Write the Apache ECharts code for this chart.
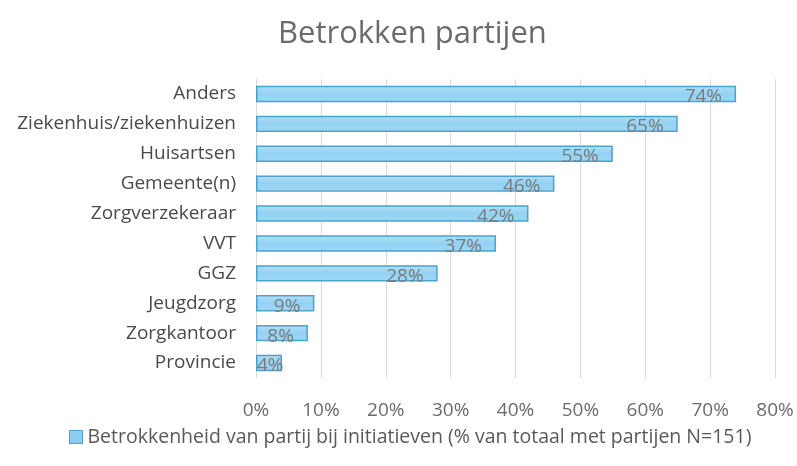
<!DOCTYPE html>
<html><head><meta charset="utf-8">
<script src="https://cdn.jsdelivr.net/npm/echarts@6/dist/echarts.min.js"></script>
<style>html,body{margin:0;padding:0;background:#fff}#c{width:797px;height:466px}</style>
</head><body><div id="c"></div>
<script>
const categories = ['Anders','Ziekenhuis/ziekenhuizen','Huisartsen','Gemeente(n)','Zorgverzekeraar','VVT','GGZ','Jeugdzorg','Zorgkantoor','Provincie'];
const values = [74,65,55,46,42,37,28,9,8,4];
const seriesName = 'Betrokkenheid van partij bij initiatieven (% van totaal met partijen N=151)';
const titleText = 'Betrokken partijen';
const font = '"Open Sans", "Noto Sans", sans-serif';
const chart = echarts.init(document.getElementById('c'));
const seriesData = values.map(v => v < 6 ? {value:v, label:{position:'insideLeft', offset:[-4,3]}} : v);
chart.setOption({
  animation:false,
  textStyle:{fontFamily:font},
  title:{text:titleText,left:273,top:14,textStyle:{fontFamily:font,fontSize:31,fontWeight:'normal',color:'#6b6b6b'}},
  legend:{bottom:14,left:64,itemWidth:13,itemHeight:13,itemGap:8,textStyle:{fontFamily:font,fontSize:19.5,color:'#595959'},
    data:[{name:seriesName,icon:'rect',itemStyle:{color:'#8ccdf0',borderColor:'#4aa3cf',borderWidth:1}}]},
  grid:{left:256,right:22,top:79,bottom:88,containLabel:false},
  xAxis:{type:'value',min:0,max:80,interval:10,
    axisLabel:{formatter:'{value}%',fontFamily:font,fontSize:19,color:'#6b6b6b',margin:23},
    splitLine:{lineStyle:{color:'#d9d9d9',width:1}},axisLine:{show:false},axisTick:{show:false}},
  yAxis:{type:'category',data:categories,inverse:true,
    axisLabel:{fontFamily:font,fontSize:19,color:'#4a4a4a',margin:20},
    axisLine:{show:true,lineStyle:{color:'#d9d9d9'}},axisTick:{show:false}},
  series:[{name:seriesName,type:'bar',data:seriesData,barWidth:'55%',
    itemStyle:{color:new echarts.graphic.LinearGradient(0,0,0,1,[{offset:0,color:'#b3e0f8'},{offset:0.5,color:'#93d1f3'},{offset:1,color:'#a0d8f6'}]),borderColor:'#4aa3cf',borderWidth:1.5},
    label:{show:true,position:'insideRight',offset:[-9,3],formatter:'{c}%',fontFamily:font,fontSize:19,color:'#7a7a7a'}}]
});
</script></body></html>
